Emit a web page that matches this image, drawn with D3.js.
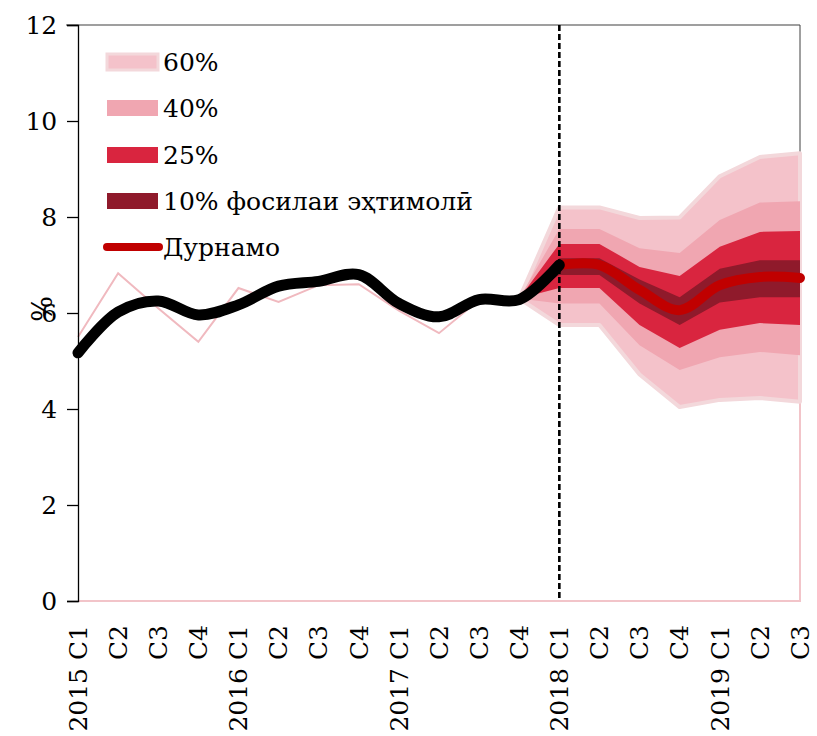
<!DOCTYPE html>
<html>
<head>
<meta charset="utf-8">
<script src="https://cdn.jsdelivr.net/npm/d3@7"></script>
<style>
  body { margin: 0; background: #fff; }
</style>
</head>
<body>
<div id="chart"></div>
<script>
var width = 817,
    height = 736;
var serif = '"DejaVu Serif", "Liberation Serif", serif';

// quarters, 2015 C1 .. 2019 C3
var quarters = ['2015 C1', 'C2', 'C3', 'C4', '2016 C1', 'C2 ', 'C3 ', 'C4 ', '2017 C1', 'C2  ', 'C3  ', 'C4  ',
                '2018 C1', 'C2   ', 'C3   ', 'C4   ', '2019 C1', 'C2    ', 'C3    '];
var yTicks = [0, 2, 4, 6, 8, 10, 12];

// actual inflation (thin line) and its smoothed trend (thick black)
var actual = [5.5, 6.83, 6.1, 5.4, 6.52, 6.23, 6.58, 6.6, 6.05, 5.58, 6.27, 6.3, 7.0];
var trend  = [5.17, 6.02, 6.25, 5.96, 6.17, 6.56, 6.66, 6.8, 6.2, 5.92, 6.28, 6.28, 7.0];

// forecast, from 2017 C4 (index 11)
var fanStart = 11;
var forecast = [6.28, 7.0, 7.0, 6.48, 6.06, 6.58, 6.75, 6.73];
var up60  = [6.3, 8.2, 8.2, 7.98, 7.99, 8.85, 9.25, 9.33];
var up40  = [6.3, 7.75, 7.75, 7.35, 7.25, 7.94, 8.3, 8.33];
var up25  = [6.3, 7.44, 7.44, 6.96, 6.77, 7.38, 7.69, 7.71];
var up10  = [6.3, 7.14, 7.14, 6.7, 6.33, 6.92, 7.1, 7.1];
var lo10  = [6.3, 6.79, 6.79, 6.2, 5.75, 6.22, 6.33, 6.33];
var lo25  = [6.3, 6.52, 6.52, 5.75, 5.27, 5.65, 5.79, 5.75];
var lo40  = [6.3, 6.2, 6.2, 5.33, 4.81, 5.08, 5.19, 5.12];
var lo60  = [6.3, 5.75, 5.75, 4.72, 4.04, 4.19, 4.23, 4.15];

var legendLabels = ['60%', '40%', '25%', '10% фосилаи эҳтимолӣ', 'Дурнамо'];
var bandColors = ['#f4c2ca', '#f0a6b1', '#d9253f', '#8f1a2b'];

var svg = d3.select('#chart').append('svg')
    .attr('width', width)
    .attr('height', height)
    .style('font-family', serif);

var x = d3.scalePoint().domain(quarters).range([78, 800]);
var y = d3.scaleLinear().domain([0, 12]).range([601, 25]);

function xi(i) { return x(quarters[i]); }

// frame: grey top, dark right, pink bottom
svg.append('line').attr('x1', 66).attr('x2', xi(18)).attr('y1', y(12)).attr('y2', y(12))
    .attr('stroke', '#7f7f7f').attr('stroke-width', 1.5);
svg.append('line').attr('x1', xi(18)).attr('x2', xi(18)).attr('y1', y(12)).attr('y2', y(lo60[7]))
    .attr('stroke', '#404040').attr('stroke-width', 1);
svg.append('path')
    .attr('d', d3.line()([[xi(0), y(0)], [xi(18), y(0)], [xi(18), y(lo60[7])]]))
    .attr('fill', 'none').attr('stroke', '#f2c4c9').attr('stroke-width', 2);

// fan
var bands = [[lo60, up60], [lo40, up40], [lo25, up25], [lo10, up10]];
var area = d3.area()
    .x(function(d) { return xi(d.i); })
    .y0(function(d) { return y(d.lo); })
    .y1(function(d) { return y(d.hi); });

bands.forEach(function(b, k) {
  var pts = b[0].map(function(v, j) { return {i: fanStart + j, lo: v, hi: b[1][j]}; });
  var p = svg.append('path')
      .attr('d', area(pts))
      .attr('fill', bandColors[k]);
  if (k === 0) p.attr('stroke', '#f3d8db').attr('stroke-width', 4).attr('stroke-linejoin', 'round');
});

// vertical dashed line at 2018 C1
svg.append('line')
    .attr('x1', xi(12)).attr('x2', xi(12))
    .attr('y1', y(12)).attr('y2', y(0))
    .attr('stroke', '#000').attr('stroke-width', 2.6)
    .attr('stroke-dasharray', '6,3');

var line = d3.line()
    .x(function(d) { return xi(d.i); })
    .y(function(d) { return y(d.v); });

// forecast line
svg.append('path')
    .attr('d', line.curve(d3.curveCatmullRom)(forecast.slice(1).map(function(v, j) { return {i: fanStart + 1 + j, v: v}; })))
    .attr('fill', 'none').attr('stroke', '#c00000').attr('stroke-width', 10).attr('stroke-linecap', 'round');

// actual thin line
svg.append('path')
    .attr('d', line.curve(d3.curveLinear)(actual.map(function(v, i) { return {i: i, v: v}; })))
    .attr('fill', 'none').attr('stroke', '#f0b9bf').attr('stroke-width', 2);

// trend
svg.append('path')
    .attr('d', line.curve(d3.curveCatmullRom)(trend.map(function(v, i) { return {i: i, v: v}; })))
    .attr('fill', 'none').attr('stroke', '#000').attr('stroke-width', 11).attr('stroke-linecap', 'round');

// y axis
var yAxis = svg.append('g')
    .attr('transform', 'translate(78,0)')
    .call(d3.axisLeft(y).tickValues(yTicks).tickSize(11).tickPadding(6));
yAxis.attr('font-family', null);
yAxis.select('.domain').attr('stroke', '#000').attr('stroke-width', 1.3);
yAxis.selectAll('.tick line').attr('stroke', '#000').attr('stroke-width', 1.3);
yAxis.selectAll('.tick text').attr('font-size', 25).attr('dx', '-0.15em')
    .style('font-family', serif);

// y axis title, sits on the 6 label
svg.append('text')
    .attr('transform', 'translate(52,309) rotate(-90)')
    .attr('text-anchor', 'middle')
    .attr('font-size', 27)
    .style('font-family', serif)
    .text('%');

// x labels
svg.append('g').selectAll('text')
    .data(quarters)
    .enter().append('text')
    .attr('transform', function(d) { return 'translate(' + x(d) + ',625) rotate(-90)'; })
    .attr('text-anchor', 'end')
    .attr('dy', '0.35em')
    .attr('font-size', 25)
    .style('font-family', serif)
    .text(function(d) { return d.trim(); });

// legend
var legendY = [62, 108, 155, 201, 247];
var leg = svg.append('g');
legendLabels.forEach(function(lbl, k) {
  if (k < 4) {
    var r = leg.append('rect')
        .attr('x', 107).attr('width', 51)
        .attr('y', legendY[k] - 8).attr('height', 16)
        .attr('fill', bandColors[k]);
    if (k === 0) r.attr('stroke', '#f3d8db').attr('stroke-width', 3);
  } else {
    leg.append('line')
        .attr('x1', 107).attr('x2', 159)
        .attr('y1', legendY[k]).attr('y2', legendY[k])
        .attr('stroke', '#c00000').attr('stroke-width', 8).attr('stroke-linecap', 'round');
  }
  leg.append('text')
      .attr('x', 163).attr('y', legendY[k] + 9)
      .attr('font-size', 25)
      .style('font-family', serif)
      .text(lbl);
});
</script>
</body>
</html>
